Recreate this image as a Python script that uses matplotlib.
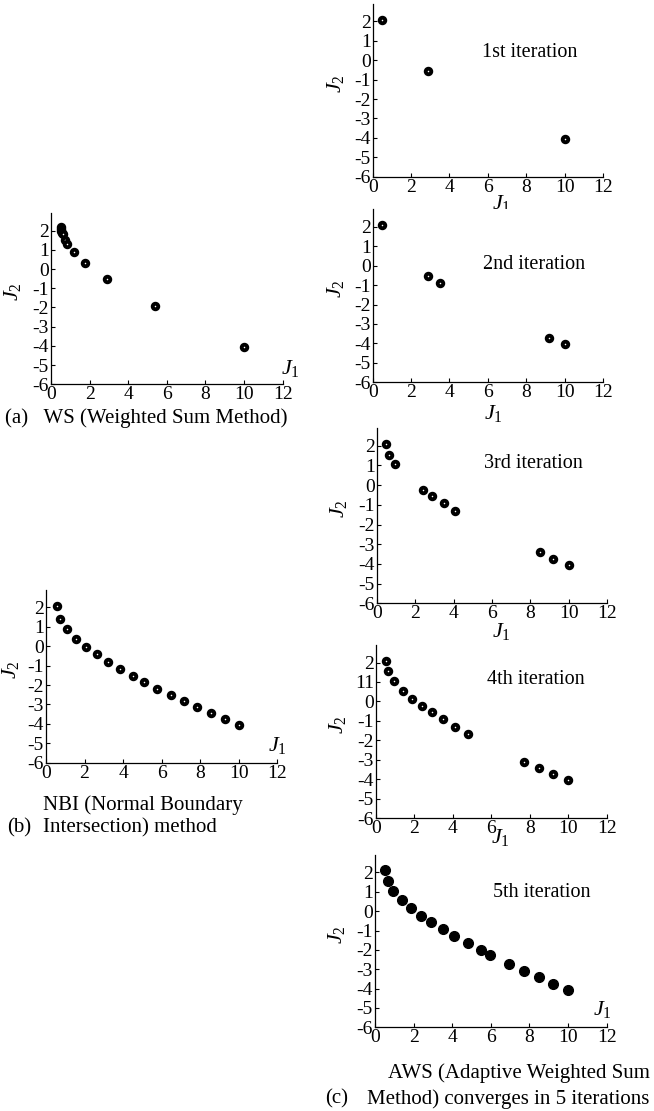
import matplotlib
matplotlib.use('agg')
import matplotlib.pyplot as plt
from matplotlib.transforms import blended_transform_factory

plt.rcParams['font.family'] = 'Liberation Serif'
plt.rcParams['mathtext.fontset'] = 'custom'
plt.rcParams['mathtext.rm'] = 'Liberation Serif'
plt.rcParams['mathtext.it'] = 'Liberation Serif:italic'
plt.rcParams['axes.unicode_minus'] = False

W, H = 654, 1111

# (a) weighted sum
ws_j1 = [0.5, 0.5, 0.52, 0.55, 0.6, 0.72, 0.85, 1.18, 1.77, 2.88, 5.38, 10.0]
ws_j2 = [2.2, 2.1, 2.0, 1.9, 1.8, 1.52, 1.3, 0.88, 0.33, -0.5, -1.95, -4.05]

# (b) normal boundary intersection
nbi_j1 = [0.55, 0.73, 1.07, 1.56, 2.08, 2.63, 3.2, 3.84, 4.5, 5.1, 5.78, 6.47, 7.16, 7.85, 8.54, 9.27, 10.0]
nbi_j2 = [2.05, 1.4, 0.88, 0.4, -0.03, -0.4, -0.8, -1.17, -1.52, -1.86, -2.2, -2.5, -2.83, -3.13, -3.45, -3.74, -4.05]

# (c) adaptive weighted sum, iterations 1..5
it1_j1 = [0.5, 2.9, 10.0]
it1_j2 = [2.1, -0.55, -4.05]
it2_j1 = [0.5, 2.9, 3.5, 9.2, 10.0]
it2_j2 = [2.1, -0.55, -0.9, -3.72, -4.05]
it3_j1 = [0.5, 0.65, 0.95, 2.4, 2.9, 3.5, 4.1, 8.5, 9.2, 10.0]
it3_j2 = [2.1, 1.55, 1.05, -0.25, -0.55, -0.9, -1.3, -3.42, -3.75, -4.05]
it4_j1 = [0.5, 0.65, 0.95, 1.4, 1.85, 2.4, 2.9, 3.5, 4.1, 4.8, 7.7, 8.5, 9.2, 10.0]
it4_j2 = [2.1, 1.55, 1.05, 0.55, 0.15, -0.25, -0.55, -0.9, -1.3, -1.65, -3.1, -3.42, -3.75, -4.05]
it5_j1 = [0.5, 0.65, 0.95, 1.4, 1.85, 2.4, 2.9, 3.5, 4.1, 4.8, 5.5, 5.95, 6.95, 7.7, 8.5, 9.2, 10.0]
it5_j2 = [2.1, 1.55, 1.05, 0.55, 0.15, -0.25, -0.55, -0.9, -1.3, -1.65, -2.0, -2.25, -2.75, -3.1, -3.42, -3.75, -4.05]

xticks = [0, 2, 4, 6, 8, 10, 12]
yticks = [2, 1, 0, -1, -2, -3, -4, -5, -6]
ytick_labels = [str(t) for t in yticks]

J1 = r'$\mathit{J}_{\mathit{1}}$'
J2 = r'$\mathit{J}_{\mathit{2}}$'

fig = plt.figure(figsize=(W / 100, H / 100), dpi=100)


def make_axes(x0, x12, ybot, ytop):
    # pixel box -> figure fraction
    return fig.add_axes([x0 / W, 1 - ybot / H, (x12 - x0) / W, (ybot - ytop) / H])


def style(ax, j2_x, j1_xy, ylabels=ytick_labels):
    ax.set_xlim(0, 12)
    ax.set_ylim(-6, 2.9)
    for s in ['top', 'right']:
        ax.spines[s].set_visible(False)
    for s in ['left', 'bottom']:
        ax.spines[s].set_linewidth(0.9)
    ax.set_xticks(xticks)
    ax.set_yticks(yticks)
    ax.set_yticklabels(ylabels)
    ax.tick_params(direction='in', length=3, width=0.8, labelsize=14, pad=1.5)
    tr = blended_transform_factory(ax.transAxes, ax.transData)
    ax.text(j2_x, -1.2, J2, transform=tr, rotation=90, fontsize=16,
            ha='center', va='center')
    ax.text(j1_xy[0], j1_xy[1], J1, fontsize=16, ha='center', va='center',
            clip_on=False)


def rings(ax, xs, ys):
    ax.plot(xs, ys, 'o', ms=4.0, mfc='white', mec='black', mew=2.8,
            ls='none', clip_on=False)


# left column
ax = make_axes(51, 282.7, 384.3, 213.3)
rings(ax, ws_j1, ws_j2)
style(ax, -0.168, (12.4, -5.2))

ax = make_axes(46, 277.3, 762.7, 590)
rings(ax, nbi_j1, nbi_j2)
style(ax, -0.155, (12.0, -5.1))

# right column
ax = make_axes(372.7, 603, 176.7, 4)
rings(ax, it1_j1, it1_j2)
style(ax, -0.16, (6.7, -7.4))
ax.text(5.7, 0.4, '1st iteration', fontsize=14.5, va='center')

ax = make_axes(372.7, 603, 382.3, 209.3)
rings(ax, it2_j1, it2_j2)
style(ax, -0.16, (6.27, -7.6))
ax.text(5.74, 0.07, '2nd iteration', fontsize=14.5, va='center')

ax = make_axes(376.7, 607.3, 603.3, 428)
rings(ax, it3_j1, it3_j2)
style(ax, -0.165, (6.5, -7.45))
ax.text(5.6, 1.08, '3rd iteration', fontsize=14.5, va='center')

ax = make_axes(376, 606.7, 818.3, 645)
rings(ax, it4_j1, it4_j2)
style(ax, -0.165, (6.45, -7.0),
      ylabels=['2', '11', '0', '-1', '-2', '-3', '-4', '-5', '-6'])
ax.text(5.78, 1.13, '4th iteration', fontsize=14.5, va='center')

ax = make_axes(375, 606.7, 1027.3, 855)
ax.plot(it5_j1, it5_j2, 'o', ms=7, color='black', ls='none', clip_on=False)
style(ax, -0.165, (11.8, -5.1))
ax.text(6.1, 0.97, '5th iteration', fontsize=14.5, va='center')

# captions
cap = dict(fontsize=15, va='center', ha='left')
fig.text(5 / W, 1 - 418 / H, '(a)   WS (Weighted Sum Method)', **cap)
fig.text(43 / W, 1 - 805 / H, 'NBI (Normal Boundary', **cap)
fig.text(7 / W, 1 - 828 / H, '(b)', **cap)
fig.text(43 / W, 1 - 828 / H, 'Intersection) method', **cap)
fig.text(388 / W, 1 - 1073 / H, 'AWS (Adaptive Weighted Sum', **cap)
fig.text(325 / W, 1 - 1099 / H, '(c)', **cap)
fig.text(367 / W, 1 - 1099 / H, 'Method) converges in 5 iterations', **cap)

fig.savefig('out.png', dpi=100)
